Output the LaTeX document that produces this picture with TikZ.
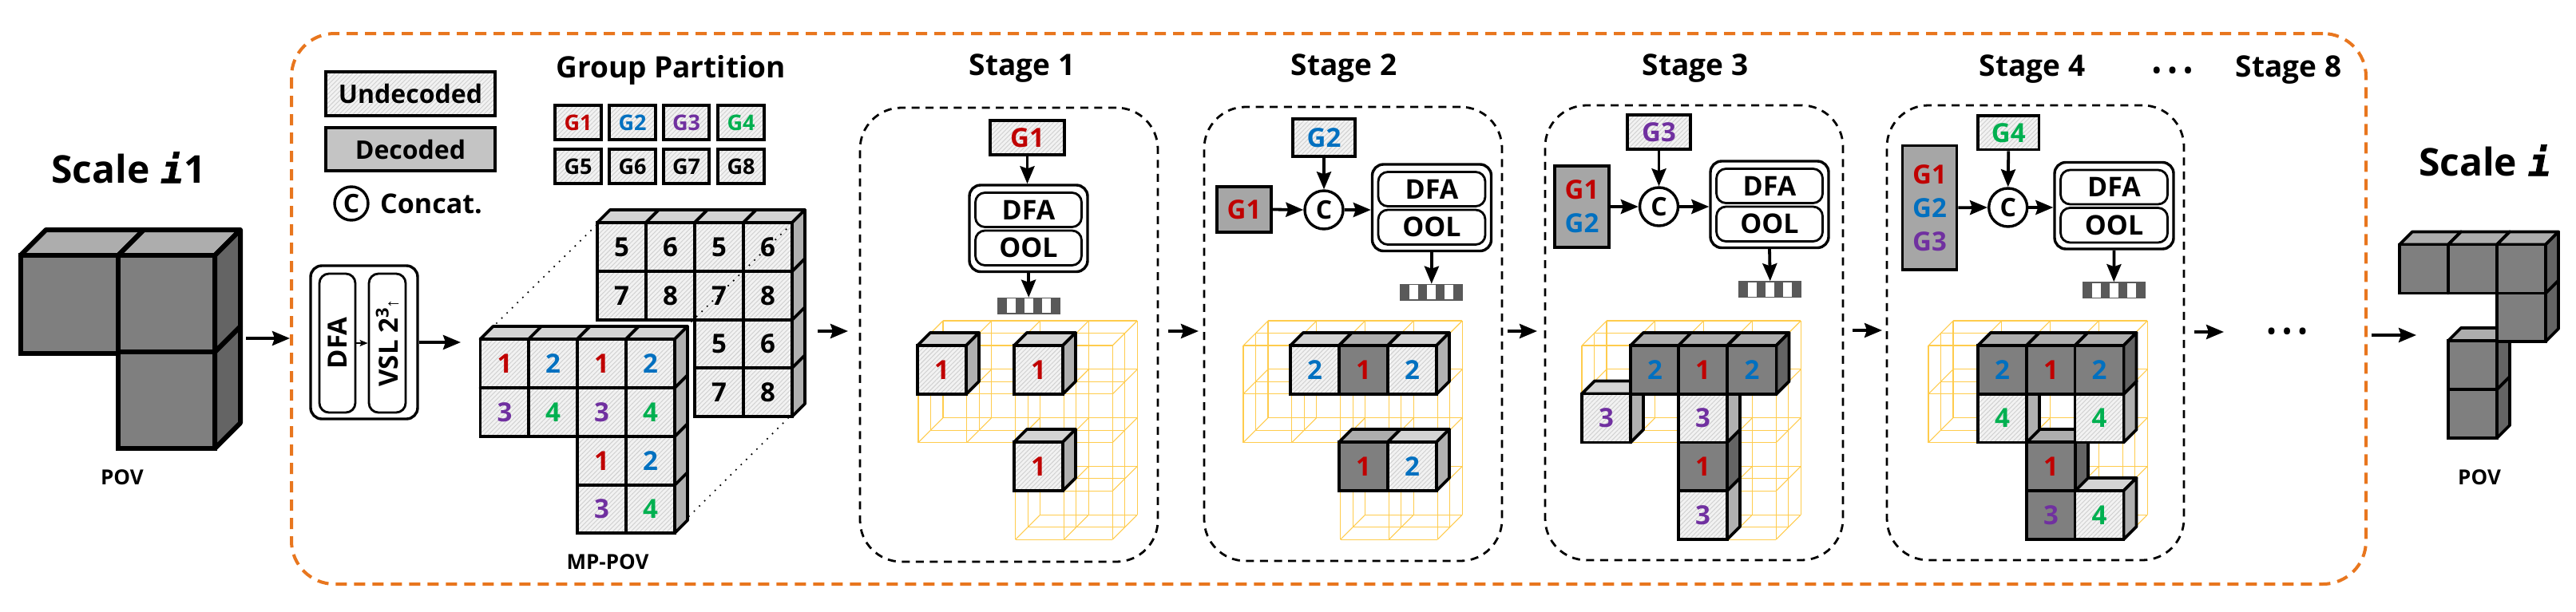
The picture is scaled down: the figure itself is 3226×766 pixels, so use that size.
\documentclass[tikz,border=0pt]{standalone}
\usepackage{fontspec}
\setmainfont{Open Sans}
\newfontfamily\arialreg{Liberation Sans}
\newfontfamily\monoi{DejaVu Sans Mono}[UprightFont={* Bold Oblique},FakeBold=1.5]
\usetikzlibrary{arrows.meta,patterns.meta}
\definecolor{gred}{HTML}{C00000}
\definecolor{gblue}{HTML}{0070C0}
\definecolor{gpurple}{HTML}{7030A0}
\definecolor{ggreen}{HTML}{00B050}
\definecolor{orangeline}{HTML}{E8761E}
\definecolor{wirecol}{HTML}{FFCC4D}
\definecolor{hatchbg}{HTML}{F2F2F2}
\definecolor{hatchln}{HTML}{CFCFCF}
\newcommand{\lA}{\textcolor{gred}{1}}
\newcommand{\lB}{\textcolor{gblue}{2}}
\newcommand{\lC}{\textcolor{gpurple}{3}}
\newcommand{\lD}{\textcolor{ggreen}{4}}
\newcommand{\gA}{\textcolor{gred}{G1}}
\newcommand{\gB}{\textcolor{gblue}{G2}}
\newcommand{\gC}{\textcolor{gpurple}{G3}}
\newcommand{\gD}{\textcolor{ggreen}{G4}}
\definecolor{D4gray}{HTML}{D4D4D4}
\definecolor{Bgray}{HTML}{B0B0B0}
\definecolor{Fgray}{HTML}{7F7F7F}
\definecolor{Tgray}{HTML}{ADADAD}
\definecolor{Sgray}{HTML}{646464}
\definecolor{Mgray}{HTML}{A6A6A6}
\definecolor{barDark}{HTML}{595959}
\tikzset{
  every node/.style={inner sep=0pt},
  lab/.style={font=\bfseries\fontsize{#1}{#1}\selectfont},
  hatched/.style={preaction={fill=hatchbg},pattern={Lines[angle=45,distance=2pt,line width=0.45pt]},pattern color=hatchln},
  Ufront/.style={draw=black,hatched,lab=16.5},
  Utop/.style={draw=black,fill=D4gray},
  Uside/.style={draw=black,fill=Bgray},
  Dfront/.style={draw=black,fill=Fgray,lab=16.5},
  Dtop/.style={draw=black,fill=Tgray},
  Dside/.style={draw=black,fill=Sgray},
  ubox/.style={draw=black,line width=1.9pt,hatched,lab=16.5},
  dbox/.style={draw=black,line width=1.9pt,fill=Mgray,lab=16.5,align=center},
  smallbox/.style={draw=black,line width=1.6pt,hatched,lab=13.5},
  outerbox/.style={draw=black,line width=1.7pt,rounded corners=7pt},
  innerbox/.style={draw=black,line width=1.4pt,rounded corners=6pt,fill=white,lab=17},
  stagebox/.style={draw=black,line width=1.4pt,dash pattern=on 5pt off 3.8pt,rounded corners=26pt},
  concat/.style={draw=black,line width=1.7pt,circle,fill=white,lab=16},
  arr/.style={line width=1.9pt,-{Stealth[length=11pt,width=9pt,inset=1.5pt]}},
  arrthin/.style={line width=0.8pt,-{Stealth[length=5pt,width=4pt,inset=1pt]}},
  dotline/.style={line width=1.2pt,line cap=round,dash pattern=on 0pt off 4.6pt},
  wirestyle/.style={draw=wirecol,line width=0.55pt},
  title/.style={lab=18.5},
}
\newcommand{\bx}[7]{\node[#6,minimum width={((#4)-(#2))*0.5pt},minimum height={((#5)-(#3))*0.5pt}] (#1) at ({((#2)+(#4))/2},{((#3)+(#5))/2}) {#7};}
\def\vlw{1.9pt}
\newcommand{\vox}[7]{%
  \path[#6top,line width=\vlw,line join=round] (#2,#3) -- ++(#5,-#5) -- ++(#4,0) -- ++(-#5,#5) -- cycle;
  \path[#6side,line width=\vlw,line join=round] ({#2+#4},#3) -- ++(#5,-#5) -- ++(0,#4) -- ++(-#5,#5) -- cycle;
  \bx{#1}{#2}{#3}{#2+#4}{#3+#4}{#6front,line width=\vlw}{#7}
}
\newcommand{\vs}[5]{\vox{#1}{#2}{#3}{61}{16}{#4}{#5}}
\newcommand{\module}[4]{%
  \bx{#1}{#2}{#3}{#4}{#3+108.5}{outerbox}{}
  \bx{#1dfa}{#2+7.5}{#3+9.5}{#4-7.5}{#3+52.5}{innerbox}{DFA}
  \bx{#1ool}{#2+7.5}{#3+57}{#4-7.5}{#3+100.5}{innerbox}{OOL}
}
\newcommand{\segbar}[3]{%
  \bx{#1}{#2}{#3}{#2+77.5}{#3+19.5}{draw=barDark,line width=0.8pt,fill=white}{}
  \foreach \k in {0,2,4,6} \fill[barDark] ({#2+11.07*\k},#3) rectangle ++(11.07,19.5);
}
\newcommand{\wire}[2]{%
  \begin{scope}[shift={(#1,#2)}]
    \foreach \k in {0,1,2}{
      \begin{scope}[shift={({15.5*\k},{-15.5*\k})}]
        \foreach \j in {0,1,2} \draw[wirestyle] (0,{60.8*\j}) -- (243.2,{60.8*\j});
        \foreach \j in {3,4} \draw[wirestyle] (121.6,{60.8*\j}) -- (243.2,{60.8*\j});
        \foreach \i in {0,1} \draw[wirestyle] ({60.8*\i},0) -- ({60.8*\i},121.6);
        \foreach \i in {2,3,4} \draw[wirestyle] ({60.8*\i},0) -- ({60.8*\i},243.2);
      \end{scope}
    }
    \foreach \i in {0,...,4} \foreach \j in {0,1,2} \draw[wirestyle] ({60.8*\i},{60.8*\j}) -- ++(31,-31);
    \foreach \i in {2,3,4} \foreach \j in {3,4} \draw[wirestyle] ({60.8*\i},{60.8*\j}) -- ++(31,-31);
  \end{scope}
}
\begin{document}
\begin{tikzpicture}[x=0.5pt,y=-0.5pt]
\useasboundingbox (0,0) rectangle (3226,766);
\fill[white] (0,0) rectangle (3226,766);

% left POV
\node[lab=24] (scaleL) at (161,210) {Scale\hspace{7pt}{\monoi i}1};
\def\vlw{3pt}
\vox{pl3}{148}{441}{121}{32}{D}{}
\vox{pl1}{25.5}{320}{122.5}{32}{D}{}
\vox{pl2}{148}{320}{121}{32}{D}{}
\def\vlw{1.9pt}
\node[lab=13] (povL) at (153,598) {POV};

% orange frame
\bx{frame}{365}{42}{2963}{732}{draw=orangeline,line width=2pt,dash pattern=on 7pt off 4.5pt,rounded corners=27pt}{}

% legend
\bx{undec}{408}{90}{620}{145}{ubox,lab=16}{Undecoded}
\bx{dec}{408}{160}{620}{214}{draw=black,line width=1.9pt,fill=Bgray!75,lab=16}{Decoded}
\node[concat,minimum size=21pt] (cleg) at (440,255) {C};
\node[lab=17] (cleglab) at (540,255) {Concat.};

% group partition
\node[title] (gptitle) at (840,88) {Group Partition};
\bx{ga}{695}{132}{753}{175}{smallbox}{\gA}
\bx{gb}{763}{132}{821}{175}{smallbox}{\gB}
\bx{gc}{831}{132}{888}{175}{smallbox}{\gC}
\bx{gd}{899}{132}{957}{175}{smallbox}{\gD}
\bx{ge}{695}{187}{753}{230}{smallbox}{G5}
\bx{gf}{763}{187}{821}{230}{smallbox}{G6}
\bx{gg}{831}{187}{888}{230}{smallbox}{G7}
\bx{gh}{899}{187}{957}{230}{smallbox}{G8}

% DFA + VSL
\bx{enc}{389}{333}{523}{525}{outerbox}{}
\bx{encdfa}{400}{343}{445}{517}{draw=black,line width=1.4pt,rounded corners=6pt}{}
\bx{encvsl}{462}{343}{508}{517}{draw=black,line width=1.4pt,rounded corners=6pt}{}
\node[rotate=90,lab=16.5] (encdfat) at (encdfa.center) {DFA};
\node[rotate=90,lab=16.5] (encvslt) at (485,430) {VSL 2\raisebox{6pt}{\fontsize{11}{11}\selectfont 3}{\arialreg\mdseries\fontsize{11}{11}\selectfont↑}};
\draw[arrthin] (encdfa.east) -- (encvsl.west);

% MP-POV back block
\vs{b33}{870}{461}{U}{7}
\vs{b34}{931}{461}{U}{8}
\vs{b23}{870}{400}{U}{5}
\vs{b24}{931}{400}{U}{6}
\vs{b11}{748}{340}{U}{7}
\vs{b12}{809}{340}{U}{8}
\vs{b13}{870}{340}{U}{7}
\vs{b14}{931}{340}{U}{8}
\vs{b01}{748}{279}{U}{5}
\vs{b02}{809}{279}{U}{6}
\vs{b03}{870}{279}{U}{5}
\vs{b04}{931}{279}{U}{6}
% dotted projectors
\coordinate (d1a) at (622,405); \coordinate (d1b) at (748,281);
\coordinate (d2a) at (866,403); \coordinate (d2b) at (987,285);
\coordinate (d3a) at (863,647); \coordinate (d3b) at (988,523);
\draw[dotline] (d1a) -- (d1b);
\draw[dotline] (d2a) -- (d2b);
\draw[dotline] (d3a) -- (d3b);
% MP-POV front block
\vs{f33}{723}{607}{U}{\lC}
\vs{f34}{784}{607}{U}{\lD}
\vs{f23}{723}{547}{U}{\lA}
\vs{f24}{784}{547}{U}{\lB}
\vs{f11}{601.5}{486}{U}{\lC}
\vs{f12}{662}{486}{U}{\lD}
\vs{f13}{723}{486}{U}{\lC}
\vs{f14}{784}{486}{U}{\lD}
\vs{f01}{601.5}{425}{U}{\lA}
\vs{f02}{662}{425}{U}{\lB}
\vs{f03}{723}{425}{U}{\lA}
\vs{f04}{784}{425}{U}{\lB}
\node[lab=13] (mplab) at (761,704) {MP-POV};

% top-level arrows
\coordinate (a0s) at (308,424); \coordinate (a0e) at (363,424);
\draw[arr] (a0s) -- (a0e);
\coordinate (a1e) at (577,429);
\draw[arr] (enc.east |- a1e) -- (a1e);
\coordinate (a2s) at (1024,415); \coordinate (a2e) at (1062,415);
\draw[arr] (a2s) -- (a2e);
\coordinate (a3s) at (1463,415); \coordinate (a3e) at (1501,415);
\draw[arr] (a3s) -- (a3e);
\coordinate (a4s) at (1888,415); \coordinate (a4e) at (1925,415);
\draw[arr] (a4s) -- (a4e);
\coordinate (a5s) at (2320,414); \coordinate (a5e) at (2357,414);
\draw[arr] (a5s) -- (a5e);
\coordinate (a6s) at (2748,416); \coordinate (a6e) at (2785,416);
\draw[arr] (a6s) -- (a6e);
\coordinate (a7s) at (2970,420); \coordinate (a7e) at (3026,420);
\draw[arr] (a7s) -- (a7e);

% ---------- Stage 1
\node[title] (t1) at (1280,86) {Stage 1};
\bx{s1}{1077}{135}{1450}{704}{stagebox}{}
\bx{s1g}{1240}{151}{1333}{194}{ubox}{\gA}
\module{s1m}{1214}{232}{1362}
\segbar{s1b}{1249.5}{373.5}
\draw[arr] (s1g.south) -- (s1g.south |- s1m.north);
\draw[arr] (s1m.south) -- (s1b.north);
\wire{1150}{433}
\vs{s1c3}{1270}{554}{U}{\lA}
\vs{s1c1}{1149}{433}{U}{\lA}
\vs{s1c2}{1270}{433}{U}{\lA}

% ---------- Stage 2
\node[title] (t2) at (1683,86) {Stage 2};
\bx{s2}{1508}{134}{1881}{703}{stagebox}{}
\bx{s2g}{1619}{149}{1697}{196}{ubox}{\gB}
\bx{s2d}{1524}{234}{1592}{291}{dbox}{\gA}
\node[concat,minimum size=24pt] (s2c) at (1658,263) {C};
\module{s2m}{1718.5}{206}{1867.5}
\segbar{s2b}{1754}{356.5}
\draw[arr] (s2g.south) -- (s2c.north);
\draw[arr] (s2d.east) -- (s2c.west);
\draw[arr] (s2c.east) -- (s2c.east -| s2m.west);
\draw[arr] (s2m.south) -- (s2b.north);
\wire{1557}{433}
\vs{s2e}{1677}{554}{D}{\lA}
\vs{s2f}{1738}{554}{U}{\lB}
\vs{s2h}{1616}{433}{U}{\lB}
\vs{s2i}{1677}{433}{D}{\lA}
\vs{s2j}{1738}{433}{U}{\lB}

% ---------- Stage 3
\node[title] (t3) at (2123,86) {Stage 3};
\bx{s3}{1935}{132}{2308}{702}{stagebox}{}
\bx{s3g}{2038}{144}{2117}{187}{ubox}{\gC}
\bx{s3d}{1947}{208}{2015}{310}{dbox,font=\bfseries\fontsize{16.5}{21}\selectfont}{\gA\\[0pt]\gB}
\node[concat,minimum size=24pt] (s3c) at (2077.5,259) {C};
\module{s3m}{2142}{202}{2290}
\segbar{s3b}{2178}{353}
\draw[arr] (s3g.south) -- (s3c.north);
\draw[arr] (s3d.east) -- (s3c.west);
\draw[arr] (s3c.east) -- (s3c.east -| s3m.west);
\draw[arr] (s3m.south) -- (s3b.north);
\wire{1981}{433}
\vs{s3k}{2102}{615}{U}{\lC}
\vs{s3l}{2102}{554}{D}{\lA}
\vs{s3m1}{1981}{493.5}{U}{\lC}
\vs{s3n}{2102}{493.5}{U}{\lC}
\vs{s3o}{2042}{433}{D}{\lB}
\vs{s3p}{2102}{433}{D}{\lA}
\vs{s3q}{2163.5}{433}{D}{\lB}

% ---------- Stage 4
\node[title] (t4) at (2545,87) {Stage 4};
\node[lab=14] (dotsA) at (2720.5,91) {•\hspace{4.5pt}•\hspace{4.5pt}•};
\bx{s4}{2363}{132}{2735}{702}{stagebox}{}
\bx{s4g}{2477}{145}{2553.5}{187.5}{ubox}{\gD}
\bx{s4d}{2382.5}{182.5}{2450.5}{338}{dbox,font=\bfseries\fontsize{16.5}{21}\selectfont}{\gA\\[0pt]\gB\\[0pt]\gC}
\node[concat,minimum size=24pt] (s4c) at (2514.7,260) {C};
\module{s4m}{2573}{203.5}{2722}
\segbar{s4b}{2608.5}{354}
\draw[arr] (s4g.south) -- (s4c.north);
\draw[arr] (s4d.east) -- (s4c.west);
\draw[arr] (s4c.east) -- (s4c.east -| s4m.west);
\draw[arr] (s4m.south) -- (s4b.north);
\wire{2415}{433}
\vs{s4r}{2538}{615}{D}{\lC}
\vs{s4s}{2598.5}{615}{U}{\lD}
\vs{s4t}{2538}{554}{D}{\lA}
\vs{s4u}{2477}{493.5}{U}{\lD}
\vs{s4v}{2598.5}{493.5}{U}{\lD}
\vs{s4w}{2477}{433}{D}{\lB}
\vs{s4x}{2538}{433}{D}{\lA}
\vs{s4y}{2598.5}{433}{D}{\lB}

% ---------- Stage 8 and end
\node[title] (t8) at (2866,88) {Stage 8};
\node[lab=14] (dotsB) at (2864,418.7) {•\hspace{4.5pt}•\hspace{4.5pt}•};
\node[lab=24] (scaleR) at (3112,201) {Scale\hspace{7pt}{\monoi i}};
\vs{pr6}{3066}{488}{D}{}
\vs{pr5}{3066}{427}{D}{}
\vs{pr4}{3127}{367}{D}{}
\vs{pr1}{3005}{306.5}{D}{}
\vs{pr2}{3066}{306.5}{D}{}
\vs{pr3}{3127}{306.5}{D}{}
\node[lab=13] (povR) at (3105,598) {POV};
\end{tikzpicture}
\end{document}
